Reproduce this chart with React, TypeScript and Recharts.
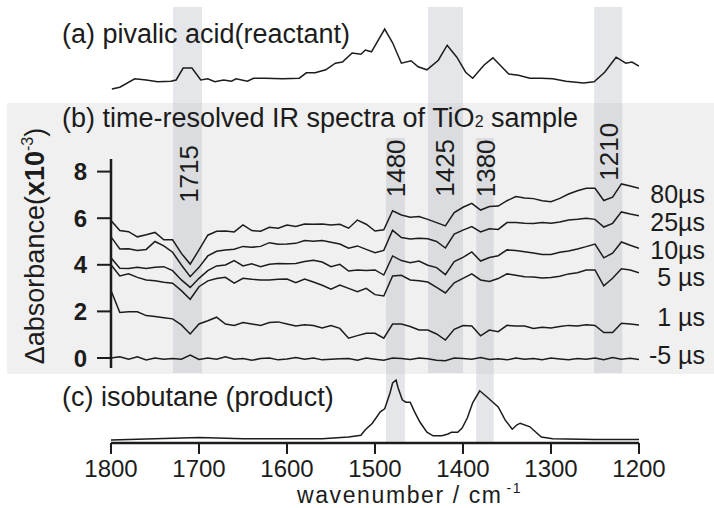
import { LineChart, Line, XAxis, YAxis, ReferenceArea, ReferenceLine, ReferenceDot } from "recharts";

const FONT = '"Liberation Sans", Arial, Helvetica, sans-serif';
const INK = "#1c1c1c";

// wavenumber grid of the time-resolved spectra (cm-1)
const WN = [
  1800, 1790, 1780, 1770, 1760, 1750, 1740, 1730, 1720, 1710,
  1700, 1690, 1680, 1670, 1660, 1650, 1640, 1630, 1620, 1610,
  1600, 1590, 1580, 1570, 1560, 1550, 1540, 1530, 1520, 1510,
  1500, 1490, 1480, 1470, 1460, 1450, 1440, 1430, 1420, 1410,
  1400, 1390, 1380, 1370, 1360, 1350, 1340, 1330, 1320, 1310,
  1300, 1290, 1280, 1270, 1260, 1250, 1240, 1230, 1220, 1210,
  1200,
];

// delta absorbance (x10^-3), offset traces
const S80 = [
  5.90, 5.47, 5.42, 5.20, 5.29, 5.39, 5.07, 5.07, 4.49, 4.03,
  4.64, 5.27, 5.44, 5.45, 5.41, 5.71, 5.47, 5.44, 5.61, 5.57,
  5.71, 5.64, 5.75, 5.74, 5.75, 5.71, 5.74, 5.57, 5.92, 5.74,
  5.45, 5.50, 6.32, 6.14, 6.04, 6.07, 5.95, 5.81, 5.67, 6.24,
  6.47, 6.64, 6.35, 6.50, 6.52, 6.75, 6.93, 6.87, 6.84, 6.75,
  6.71, 6.85, 7.04, 7.18, 7.28, 7.28, 6.76, 6.90, 7.47, 7.38,
  7.28,
];
const S25 = [
  5.20, 4.68, 4.69, 4.61, 4.66, 5.00, 4.81, 4.54, 3.99, 3.49,
  3.89, 4.38, 4.58, 4.64, 4.67, 4.79, 4.75, 4.79, 4.95, 4.88,
  4.89, 4.92, 5.04, 5.01, 5.04, 4.97, 4.89, 4.71, 4.81, 4.66,
  4.52, 4.62, 5.48, 5.17, 5.11, 5.14, 5.12, 5.00, 4.72, 5.32,
  5.49, 5.64, 5.41, 5.55, 5.52, 5.81, 5.81, 5.78, 5.77, 5.81,
  5.78, 5.84, 5.92, 5.95, 6.00, 5.95, 5.62, 5.78, 6.27, 6.18,
  6.10,
];
const S10 = [
  4.30, 3.85, 3.84, 3.89, 3.84, 3.89, 3.92, 3.75, 3.35, 3.03,
  3.42, 3.75, 3.95, 3.99, 4.18, 3.95, 4.04, 3.92, 4.02, 4.06,
  4.04, 4.06, 4.14, 4.19, 4.12, 3.92, 4.02, 3.73, 3.78, 3.75,
  3.78, 3.56, 4.38, 4.18, 4.09, 4.16, 3.98, 3.88, 3.58, 4.14,
  4.32, 4.55, 4.16, 4.31, 4.39, 4.64, 4.61, 4.56, 4.51, 4.44,
  4.44, 4.54, 4.59, 4.68, 4.78, 4.89, 4.30, 4.50, 4.98, 4.84,
  4.71,
];
const S5 = [
  4.00, 3.52, 3.61, 3.46, 3.35, 3.32, 3.25, 3.21, 2.89, 2.52,
  3.06, 3.31, 3.41, 3.46, 3.21, 3.42, 3.38, 3.35, 3.35, 3.38,
  3.39, 3.23, 3.39, 3.26, 3.12, 2.95, 3.13, 2.99, 2.85, 2.99,
  2.72, 2.66, 3.52, 3.55, 3.35, 3.32, 3.26, 3.03, 2.79, 3.23,
  3.42, 3.61, 3.35, 3.28, 3.41, 3.61, 3.55, 3.49, 3.48, 3.43,
  3.46, 3.51, 3.61, 3.66, 3.78, 3.78, 3.10, 3.42, 3.83, 3.78,
  3.66,
];
const S1 = [
  2.90, 1.95, 1.98, 1.98, 1.82, 1.78, 1.73, 1.68, 1.42, 1.03,
  1.46, 1.60, 1.75, 1.46, 1.40, 1.52, 1.46, 1.40, 1.52, 1.55,
  1.46, 1.37, 1.43, 1.39, 1.29, 1.39, 1.27, 0.85, 0.96, 1.06,
  1.06, 0.85, 1.46, 1.46, 1.35, 1.20, 1.20, 1.03, 0.77, 1.23,
  1.39, 1.37, 0.95, 1.20, 1.13, 1.40, 1.37, 1.37, 1.27, 1.32,
  1.29, 1.35, 1.40, 1.37, 1.43, 1.40, 1.09, 1.09, 1.49, 1.46,
  1.42,
];
const SM5 = [
  0.00, 0.05, -0.05, 0.05, -0.08, 0.00, -0.05, -0.02, -0.05, 0.13,
  -0.06, 0.00, -0.05, 0.05, -0.05, -0.02, -0.10, -0.02, 0.00, -0.08,
  -0.04, 0.02, -0.05, 0.00, -0.08, -0.05, -0.03, -0.02, -0.10, 0.00,
  -0.05, -0.10, 0.00, -0.02, -0.06, 0.00, -0.03, -0.10, -0.12, 0.00,
  -0.02, -0.05, 0.02, -0.06, -0.03, -0.08, 0.00, -0.05, -0.02, -0.07,
  0.00, -0.04, -0.08, -0.02, -0.05, 0.00, -0.07, 0.02, -0.05, -0.01,
  -0.06,
];

const SERIES_KEYS = ["s80", "s25", "s10", "s5", "s1", "sm5"];
const TIME_LABELS = ["80µs", "25µs", "10µs", "5 µs", "1 µs", "-5 µs"];
const TIME_LABEL_Y = [7.04, 5.84, 4.64, 3.48, 1.76, 0.13];

// (a) pivalic acid reference spectrum (arb. units)
const A_WN = [
  1799, 1790, 1773, 1760, 1747, 1732, 1726, 1718, 1708, 1698,
  1690, 1682, 1672, 1663, 1658, 1645, 1638, 1625, 1605, 1586,
  1578, 1568, 1556, 1545, 1537, 1526, 1516, 1511, 1504, 1489,
  1480, 1470, 1459, 1451, 1441, 1428, 1418, 1407, 1397, 1389,
  1376, 1366, 1358, 1348, 1337, 1324, 1311, 1298, 1283, 1263,
  1251, 1239, 1226, 1215, 1208, 1200,
];
const A_ABS = [
  0.05, 0.08, 0.22, 0.20, 0.17, 0.18, 0.20, 0.40, 0.40, 0.20,
  0.22, 0.17, 0.20, 0.18, 0.22, 0.18, 0.23, 0.23, 0.22, 0.23,
  0.32, 0.32, 0.37, 0.48, 0.50, 0.65, 0.63, 0.70, 0.67, 1.05,
  0.82, 0.48, 0.52, 0.42, 0.37, 0.53, 0.78, 0.58, 0.33, 0.23,
  0.45, 0.57, 0.45, 0.30, 0.28, 0.23, 0.23, 0.22, 0.18, 0.15,
  0.17, 0.33, 0.58, 0.48, 0.50, 0.43,
];

// (c) isobutane reference spectrum (arb. units)
const C_WN = [
  1800, 1750, 1700, 1650, 1600, 1560, 1530, 1516, 1511, 1503,
  1494, 1489, 1483, 1480, 1476, 1474, 1469, 1465, 1460, 1455,
  1449, 1441, 1434, 1424, 1417, 1413, 1406, 1401, 1395, 1389,
  1381, 1373, 1366, 1360, 1352, 1344, 1339, 1335, 1324, 1311,
  1298, 1250, 1200,
];
const C_ABS = [
  0.00, 0.02, 0.04, 0.02, 0.02, 0.02, 0.05, 0.08, 0.17, 0.28,
  0.47, 0.52, 0.78, 0.95, 1.00, 0.88, 0.67, 0.63, 0.63, 0.47,
  0.30, 0.13, 0.07, 0.07, 0.10, 0.13, 0.13, 0.20, 0.37, 0.62,
  0.82, 0.72, 0.63, 0.55, 0.33, 0.18, 0.25, 0.28, 0.22, 0.05,
  0.02, 0.01, 0.01,
];

// highlighted bands (cm-1) and which panels they cross
const BAND_HI = [1729.5, 1487.5, 1439.8, 1385, 1251];
const BAND_LO = [1696.6, 1466, 1400, 1365, 1219];
const BAND_SPAN = ["ab", "bc", "ab", "bc", "ab"];

const PEAK_TEXT = ["1715", "1480", "1425", "1380", "1210"];
const PEAK_AT = [1712, 1477, 1420.5, 1374, 1235];
const PEAK_Y = [7.9, 8.14, 8.16, 8.14, 8.85];

const X_TICKS = [1800, 1700, 1600, 1500, 1400, 1300, 1200];
const Y_TICKS = [0, 2, 4, 6, 8];

function XTick({ x, y, payload }: any) {
  return (
    <text x={x} y={y + 21} textAnchor="middle" fontSize={24} fill={INK} fontFamily={FONT}>
      {payload.value}
    </text>
  );
}

function YTick({ x, y, payload }: any) {
  return (
    <text x={x - 8} y={y + 8.6} textAnchor="end" fontSize={24} fontWeight="bold" fill={INK} fontFamily={FONT}>
      {payload.value}
    </text>
  );
}

function PeakText({ viewBox, text }: any) {
  return (
    <text
      transform={`translate(${viewBox.x + 9.3},${viewBox.y}) rotate(-90)`}
      textAnchor="middle"
      fontSize={26}
      fill={INK}
      fontFamily={FONT}
    >
      {text}
    </text>
  );
}

function TimeText({ viewBox, text }: any) {
  return (
    <text x={viewBox.x + 66} y={viewBox.y + 9} textAnchor="end" fontSize={25} fill={INK} fontFamily={FONT}>
      {text}
    </text>
  );
}

export default function App() {
  const rows = WN.map((wn, i) => ({
    wn, s80: S80[i], s25: S25[i], s10: S10[i], s5: S5[i], s1: S1[i], sm5: SM5[i],
  }));
  const pivalic = A_WN.map((wn, i) => ({ wn, v: A_ABS[i] }));
  const isobutane = C_WN.map((wn, i) => ({ wn, v: C_ABS[i] }));

  return (
    <div style={{ position: "absolute", left: 0, top: 0, width: 714, height: 508, background: "#fff", fontFamily: FONT }}>
      <div style={{ position: "absolute", left: 7, top: 103, width: 707, height: 271, background: "#f0f0f0" }} />
      <div style={{ position: "absolute", left: 0, top: 0 }}>
        <LineChart width={714} height={508} margin={{ top: 7, right: 75, bottom: 0, left: 51 }}>
          <XAxis
            type="number"
            dataKey="wn"
            domain={[1200, 1800]}
            reversed
            allowDataOverflow
            ticks={X_TICKS}
            height={65}
            tickSize={11}
            axisLine={{ stroke: INK, strokeWidth: 2.5 }}
            tickLine={{ stroke: INK, strokeWidth: 2 }}
            tick={<XTick />}
          />
          <YAxis
            yAxisId="b"
            domain={[-3.648, 15.064]}
            allowDataOverflow
            ticks={Y_TICKS}
            width={60}
            axisLine={false}
            tickSize={14}
            tickLine={{ stroke: INK, strokeWidth: 2 }}
            tick={<YTick />}
          />
          <YAxis yAxisId="a" hide width={0} domain={[-5.85, 1.4167]} allowDataOverflow />
          <YAxis yAxisId="c" hide width={0} domain={[-0.05, 7.2167]} allowDataOverflow />

          {BAND_HI.map((hi, i) => (
            <ReferenceArea
              key={PEAK_TEXT[i]}
              yAxisId="b"
              x1={hi}
              x2={BAND_LO[i]}
              y1={BAND_SPAN[i] === "ab" ? -0.64 : -3.648}
              y2={BAND_SPAN[i] === "ab" ? 15.064 : 9.44}
              fill="#b0b4bc"
              fillOpacity={0.33}
              stroke="none"
              ifOverflow="visible"
            />
          ))}

          <ReferenceLine
            yAxisId="b"
            segment={[{ x: 1800, y: -0.43 }, { x: 1800, y: 8.54 }]}
            stroke={INK}
            strokeWidth={2.5}
            ifOverflow="visible"
          />

          <Line data={pivalic} dataKey="v" yAxisId="a" type="linear" stroke={INK} strokeWidth={1.5} dot={false} isAnimationActive={false} />
          {SERIES_KEYS.map((k) => (
            <Line key={k} data={rows} dataKey={k} yAxisId="b" type="linear" stroke={INK} strokeWidth={1.5} dot={false} isAnimationActive={false} />
          ))}
          <Line data={isobutane} dataKey="v" yAxisId="c" type="linear" stroke={INK} strokeWidth={1.5} dot={false} isAnimationActive={false} />

          {PEAK_TEXT.map((t, i) => (
            <ReferenceDot key={t} yAxisId="b" x={PEAK_AT[i]} y={PEAK_Y[i]} r={0} fill="none" stroke="none" label={<PeakText text={t} />} />
          ))}
          {TIME_LABELS.map((t, i) => (
            <ReferenceDot key={t} yAxisId="b" x={1200} y={TIME_LABEL_Y[i]} r={0} fill="none" stroke="none" label={<TimeText text={t} />} />
          ))}
        </LineChart>
      </div>

      <svg width={714} height={508} style={{ position: "absolute", left: 0, top: 0, pointerEvents: "none" }}>
        <g fontFamily={FONT} fill={INK} fontSize={27}>
          <text x={62} y={43}>(a) pivalic acid(reactant)</text>
          <text x={62} y={127}>
            (b) time-resolved IR spectra of TiO<tspan fontSize={16}>2</tspan> sample
          </text>
          <text x={62} y={406}>(c) isobutane (product)</text>
          <text x={297} y={503} fontSize={23} letterSpacing={1.6}>
            wavenumber / cm<tspan fontSize={14} dx={4} dy={-10}>-1</tspan>
          </text>
          <text transform="translate(44,246) rotate(-90)" textAnchor="middle">
            Δabsorbance(<tspan fontWeight="bold">x10</tspan>
            <tspan fontSize={16} dy={-11}>-3</tspan>
            <tspan dy={11}>)</tspan>
          </text>
        </g>
      </svg>
    </div>
  );
}
